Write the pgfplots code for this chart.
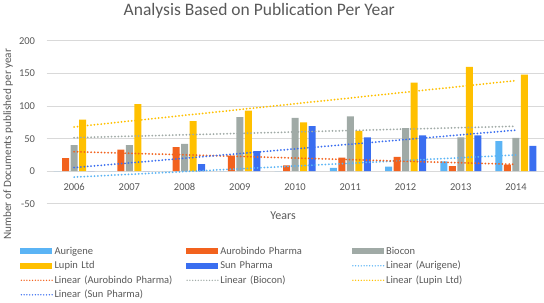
\documentclass[border=0pt]{standalone}
\usepackage{fontspec}
\setmainfont{Carlito}
\usepackage{pgfplots}
\pgfplotsset{compat=1.18}
\definecolor{aurigene}{RGB}{91,180,245}
\definecolor{aurobindo}{RGB}{242,98,30}
\definecolor{biocon}{RGB}{160,170,166}
\definecolor{lupin}{RGB}{255,192,0}
\definecolor{sun}{RGB}{58,110,240}
\definecolor{txt}{RGB}{89,89,89}
\definecolor{grd}{RGB}{217,217,217}
\tikzset{trend/.style={line width=2pt, line cap=round, dash pattern=on 0pt off 3.4pt}}
\newcommand{\barimg}[1]{\fill[#1] (0pt,-3pt) rectangle (32pt,3pt);}
\newcommand{\lineimg}[1]{\draw[#1, line width=1.5pt, line cap=round, dash pattern=on 0pt off 2.8pt] (1pt,0pt) -- (32pt,0pt);}
\begin{document}
\begin{tikzpicture}
\begin{axis}[
  scale only axis,
  width=497pt, height=163pt,
  xmin=-0.5, xmax=8.5,
  ymin=-50, ymax=200,
  ytick={-50,0,50,100,150,200},
  xtick={0,1,2,3,4,5,6,7,8},
  xticklabels={2006,2007,2008,2009,2010,2011,2012,2013,2014},
  ymajorgrids,
  grid style={grd, line width=0.8pt},
  axis line style={draw=none},
  tick style={draw=none},
  /pgf/number format/assume math mode=true,
  ticklabel style={font=\fontsize{10.5}{12}\selectfont, text=txt},
  xticklabel style={anchor=center, yshift=16.6pt},
  yticklabel style={anchor=east, xshift=-8pt},
  title={Analysis Based on Publication Per Year},
  title style={at={(axis description cs:0.428,1)}, anchor=center, yshift=24pt, font=\fontsize{17.5}{20}\selectfont, text=txt},
  xlabel={Years},
  xlabel style={at={(axis description cs:0.476,0)}, anchor=center, yshift=-11.4pt, font=\fontsize{12}{14}\selectfont, text=txt},
  ylabel={Number of Documents published per year},
  ylabel style={at={(axis description cs:0,0.366)}, anchor=center, yshift=38.4pt, font=\fontsize{11.2}{13}\selectfont, text=txt},
  legend columns=3,
  legend cell align=left,
  legend style={draw=none, fill=none, inner sep=0pt, row sep=0pt,
    at={(axis description cs:0,0)}, anchor=north west, xshift=-26.4pt, yshift=-40pt,
    font=\fontsize{10.5}{12.5}\selectfont, text=txt,
    nodes={text width=128pt, align=left, inner xsep=1.5pt, inner ysep=2.5pt, text height=7.5pt, text depth=2pt},
    /tikz/every even column/.append style={column sep=2pt}},
]
\addplot[ybar, bar width=7pt, bar shift=-17pt, fill=aurigene, draw=none, legend image code/.code={\barimg{aurigene}}]
  coordinates {(0,0) (1,0) (2,0) (3,0) (4,0) (5,5) (6,7) (7,15) (8,46)};
\addlegendentry{Aurigene}
\addplot[ybar, bar width=7pt, bar shift=-8.5pt, fill=aurobindo, draw=none, legend image code/.code={\barimg{aurobindo}}]
  coordinates {(0,20) (1,33) (2,37) (3,24) (4,9) (5,21) (6,22) (7,8) (8,10)};
\addlegendentry{Aurobindo Pharma}
\addplot[ybar, bar width=7pt, bar shift=0pt, fill=biocon, draw=none, legend image code/.code={\barimg{biocon}}]
  coordinates {(0,40) (1,40) (2,42) (3,83) (4,82) (5,84) (6,66) (7,52) (8,51)};
\addlegendentry{Biocon}
\addplot[ybar, bar width=7pt, bar shift=8.5pt, fill=lupin, draw=none, legend image code/.code={\barimg{lupin}}]
  coordinates {(0,79) (1,103) (2,77) (3,93) (4,75) (5,62) (6,136) (7,160) (8,148)};
\addlegendentry{Lupin Ltd}
\addplot[ybar, bar width=7pt, bar shift=17pt, fill=sun, draw=none, legend image code/.code={\barimg{sun}}]
  coordinates {(0,0) (1,0) (2,11) (3,31) (4,69) (5,52) (6,55) (7,55) (8,39)};
\addlegendentry{Sun Pharma}
\addplot[aurigene, trend, legend image code/.code={\lineimg{aurigene}}] coordinates {(0,-9) (8,25)};
\addlegendentry{Linear (Aurigene)}
\addplot[aurobindo, trend, legend image code/.code={\lineimg{aurobindo}}] coordinates {(0,30) (8,10.5)};
\addlegendentry{Linear (Aurobindo Pharma)}
\addplot[biocon, trend, legend image code/.code={\lineimg{biocon}}] coordinates {(0,51.5) (8,69)};
\addlegendentry{Linear (Biocon)}
\addplot[lupin, trend, legend image code/.code={\lineimg{lupin}}] coordinates {(0,68) (8,139)};
\addlegendentry{Linear (Lupin Ltd)}
\addplot[sun, trend, legend image code/.code={\lineimg{sun}}] coordinates {(0,5.6) (8,63)};
\addlegendentry{Linear (Sun Pharma)}
\end{axis}
\end{tikzpicture}
\end{document}
